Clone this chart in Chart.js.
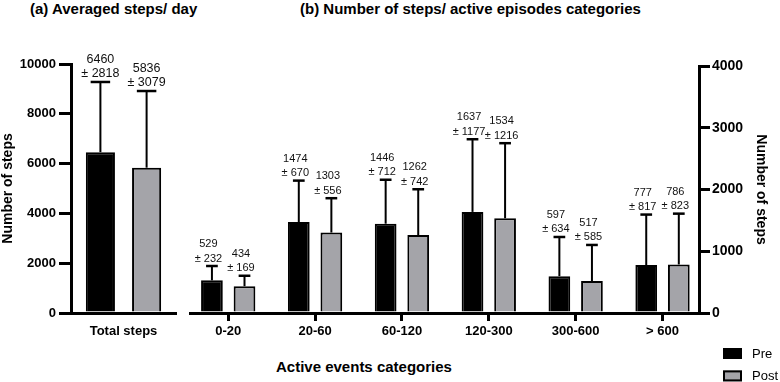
<!DOCTYPE html>
<html>
<head>
<meta charset="utf-8">
<script src="https://cdn.jsdelivr.net/npm/chart.js@4.4.0/dist/chart.umd.min.js"></script>
<style>
  body { margin: 0; background: #fff; }
  #wrap { position: relative; width: 780px; height: 382px; font-family: "Liberation Sans", Arial, sans-serif; }
  canvas { position: absolute; top: 0; }
  .title { position: absolute; font-weight: bold; font-size: 15px; line-height: 18px; white-space: nowrap; color: #000; }
</style>
</head>
<body>
<div id="wrap">
  <div class="title" style="left:30px;top:0">(a) Averaged steps/ day</div>
  <div class="title" style="left:300px;top:0">(b) Number of steps/ active episodes categories</div>
  <div class="title" style="left:276px;top:358px">Active events categories</div>
  <canvas id="totalChart" width="180" height="382" style="left:0"></canvas>
  <canvas id="episodeChart" width="600" height="382" style="left:180px"></canvas>
</div>
<script>
// series names
var seriesNames = ['Pre', 'Post'];

// (a) averaged steps per day
var totalCats = ['Total steps'];
var totalPre = [6460];
var totalPreSd = [2818];
var totalPost = [5836];
var totalPostSd = [3079];
var totalTicks = [0, 2000, 4000, 6000, 8000, 10000];

// (b) steps per active episode category
var episodeCats = ['0-20', '20-60', '60-120', '120-300', '300-600', '> 600'];
var episodePre = [529, 1474, 1446, 1637, 597, 777];
var episodePreSd = [232, 670, 712, 1177, 634, 817];
var episodePost = [434, 1303, 1262, 1534, 517, 786];
var episodePostSd = [169, 556, 742, 1216, 585, 823];
var episodeTicks = [0, 1000, 2000, 3000, 4000];

var FONT = '"Liberation Sans", Arial, sans-serif';
var GRAY = '#a4a4a9';
Chart.defaults.font.family = FONT;
Chart.defaults.color = '#000';

// draws the upper SD whisker and the "mean ± sd" text over each bar
var errorBars = {
  id: 'errorBars',
  afterDatasetsDraw: function(chart, args, opts) {
    var ctx = chart.ctx;
    var yScale = chart.scales.y;
    ctx.save();
    chart.data.datasets.forEach(function(ds, i) {
      var meta = chart.getDatasetMeta(i);
      meta.data.forEach(function(bar, j) {
        var raw = ds.data[j];
        var val = (typeof raw === 'object') ? raw.y : raw;
        var sd = ds.errors[j];
        var top = yScale.getPixelForValue(val + sd);
        var half = bar.width * opts.capRatio / 2;

        ctx.strokeStyle = '#000';
        ctx.lineWidth = 2;
        ctx.beginPath();
        ctx.moveTo(bar.x, bar.y);
        ctx.lineTo(bar.x, top);
        ctx.stroke();
        ctx.lineWidth = 2.5;
        ctx.beginPath();
        ctx.moveTo(bar.x - half, top);
        ctx.lineTo(bar.x + half, top);
        ctx.stroke();

        ctx.fillStyle = '#111';
        ctx.font = opts.fontSize + 'px ' + FONT;
        ctx.textAlign = 'center';
        ctx.textBaseline = 'alphabetic';
        var lx = bar.x + opts.labelShift;
        ctx.fillText(String(val), lx, top - opts.gap - opts.lineGap);
        ctx.fillText('\u00b1 ' + sd, lx, top - opts.gap);
      });
    });
    ctx.restore();
  }
};

// stacked box legend in the bottom right corner
var boxLegend = {
  id: 'boxLegend',
  afterDraw: function(chart, args, opts) {
    var ctx = chart.ctx;
    ctx.save();
    chart.data.datasets.forEach(function(ds, i) {
      var y = opts.y + i * opts.step;
      ctx.fillStyle = ds.backgroundColor;
      ctx.fillRect(opts.x, y, 19, 11);
      ctx.strokeStyle = ds.borderColor;
      ctx.lineWidth = 2;
      ctx.strokeRect(opts.x + 1, y + 1, 17, 9);
      ctx.fillStyle = '#000';
      ctx.font = '13px ' + FONT;
      ctx.textAlign = 'left';
      ctx.textBaseline = 'middle';
      ctx.fillText(ds.label, opts.x + 29, y + 6);
    });
    ctx.restore();
  }
};

function barSet(label, data, errors, fill, bp, cp) {
  return {
    label: label,
    data: data,
    errors: errors,
    backgroundColor: fill,
    borderColor: '#000',
    borderWidth: 2,
    barPercentage: bp,
    categoryPercentage: cp
  };
}

function plainNumber(v) { return String(v); }

var axisBorder = { display: true, color: '#000', width: 3 };

// (a)
new Chart(document.getElementById('totalChart'), {
  type: 'bar',
  data: {
    labels: totalCats,
    datasets: [
      barSet(seriesNames[0], totalPre, totalPreSd, '#000', 0.63, 0.88),
      barSet(seriesNames[1], totalPost, totalPostSd, GRAY, 0.63, 0.88)
    ]
  },
  options: {
    responsive: false,
    animation: false,
    layout: { padding: { top: 64, left: 0, right: 4, bottom: 0 } },
    plugins: {
      legend: { display: false },
      tooltip: { enabled: false },
      errorBars: { capRatio: 0.67, fontSize: 12.5, gap: 5, lineGap: 14, labelShift: 0 }
    },
    scales: {
      x: {
        grid: { display: true, drawOnChartArea: false, tickLength: 8, tickColor: 'rgba(0,0,0,0)' },
        border: axisBorder,
        ticks: { font: { size: 13, weight: 'bold' }, padding: 3, maxRotation: 0 },
        afterFit: function(s) { s.height = 69; }
      },
      y: {
        min: totalTicks[0],
        max: totalTicks[totalTicks.length - 1],
        ticks: { stepSize: totalTicks[1] - totalTicks[0], font: { size: 13, weight: 'bold' }, padding: 3, callback: plainNumber },
        grid: { drawOnChartArea: false, tickLength: 12, lineWidth: 3, color: '#000' },
        border: axisBorder,
        title: { display: true, text: 'Number of steps', font: { size: 14, weight: 'bold' }, padding: 0 },
        afterFit: function(s) { s.width = 71; }
      }
    }
  },
  plugins: [errorBars]
});

// (b)
new Chart(document.getElementById('episodeChart'), {
  type: 'bar',
  data: {
    datasets: [
      barSet(seriesNames[0], episodePre.map(function(v, i) { return { x: i, y: v }; }), episodePreSd, '#000', 0.667, 0.75),
      barSet(seriesNames[1], episodePost.map(function(v, i) { return { x: i, y: v }; }), episodePostSd, GRAY, 0.667, 0.75)
    ]
  },
  options: {
    responsive: false,
    animation: false,
    layout: { padding: { top: 66, left: 10, right: 0, bottom: 0 } },
    plugins: {
      legend: { display: false },
      tooltip: { enabled: false },
      errorBars: { capRatio: 0.54, fontSize: 11, gap: 4.5, lineGap: 14.3, labelShift: -3.5 },
      boxLegend: { x: 543, y: 348, step: 22.4 }
    },
    scales: {
      x: {
        type: 'linear',
        min: -0.44,
        max: 5.42,
        offset: false,
        // one tick per category, nothing at the range ends
        afterBuildTicks: function(s) {
          s.ticks = episodeCats.map(function(c, i) { return { value: i }; });
        },
        ticks: {
          font: { size: 13, weight: 'bold' },
          padding: 3,
          maxRotation: 0,
          autoSkip: false,
          callback: function(v) { return episodeCats[v]; }
        },
        grid: { display: true, offset: false, drawOnChartArea: false, tickLength: 8, lineWidth: 3, color: '#000' },
        border: axisBorder,
        afterFit: function(s) { s.height = 69; }
      },
      y: {
        position: 'right',
        min: episodeTicks[0],
        max: episodeTicks[episodeTicks.length - 1],
        ticks: { stepSize: episodeTicks[1] - episodeTicks[0], font: { size: 14, weight: 'bold' }, padding: 2, callback: plainNumber },
        grid: { drawOnChartArea: false, tickLength: 11, lineWidth: 3, color: '#000' },
        border: axisBorder,
        title: { display: true, text: 'Number of steps', font: { size: 14, weight: 'bold' }, padding: { top: 11, bottom: 0 } },
        afterFit: function(s) { s.width = 81; }
      }
    }
  },
  plugins: [errorBars, boxLegend]
});
</script>
</body>
</html>
